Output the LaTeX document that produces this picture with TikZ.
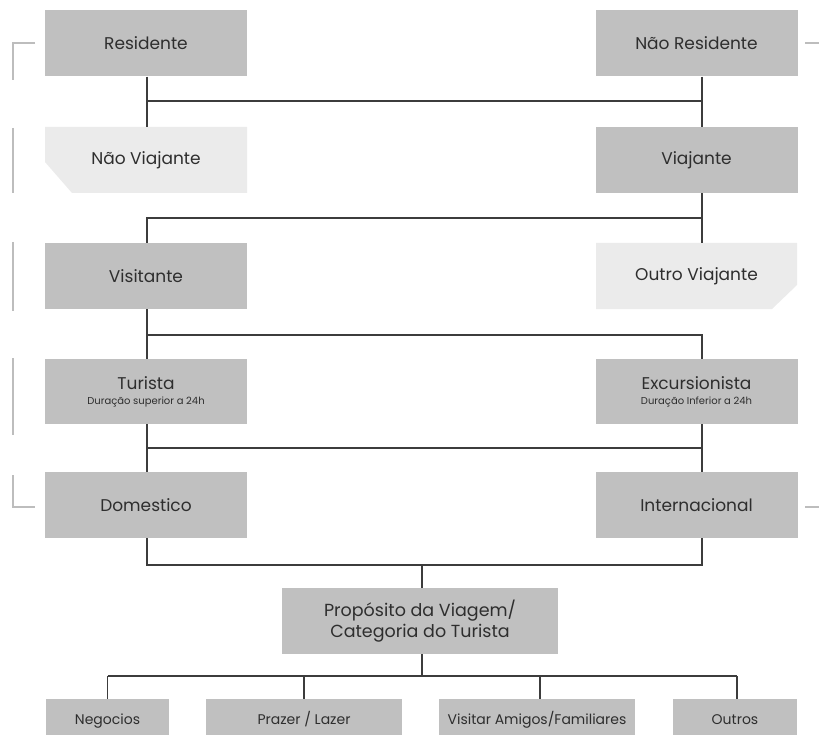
\documentclass[tikz,border=0pt]{standalone}
\usepackage{fontspec}
\setmainfont{Poppins}
\definecolor{boxgray}{HTML}{C0C0C0}
\definecolor{lightbox}{HTML}{EBEBEB}
\definecolor{linegray}{HTML}{3C3C3C}
\definecolor{brack}{HTML}{BDBDBD}
\definecolor{txt}{HTML}{2E2E2E}
\begin{document}
\begin{tikzpicture}[x=1pt,y=-1pt,
  box/.style={fill=boxgray, draw=none, inner sep=0pt, minimum width=202pt, minimum height=66pt,
    text=txt, font=\fontsize{17}{20}\selectfont, align=center},
  textonly/.style={draw=none, inner sep=0pt, minimum width=202pt, minimum height=66pt,
    text=txt, font=\fontsize{17}{20}\selectfont, align=center},
  smallbox/.style={fill=boxgray, draw=none, inner sep=0pt, minimum height=44pt,
    text=txt, font=\fontsize{14}{16}\selectfont, text height=10pt, text depth=3pt},
  conn/.style={draw=linegray, line width=1.4pt},
  bracketline/.style={draw=brack, line width=1.2pt}]
\useasboundingbox (0,0) rectangle (819,735);
\clip (0,0) rectangle (819,735);

% side brackets
\draw[bracketline] (35,43) -- (13,43) -- (13,80);
\draw[bracketline] (13,128) -- (13,193);
\draw[bracketline] (13,242) -- (13,311);
\draw[bracketline] (13,358) -- (13,435);
\draw[bracketline] (13,475) -- (13,507) -- (35,507);
\draw[bracketline] (805,43) -- (819,43);
\draw[bracketline] (805,507) -- (819,507);

% row 1
\node[box] (res) at (146,43.5) {Residente};
\node[box] (nres) at (696.5,43.5) {Não Residente};
% row 2
\fill[lightbox] (45,127) -- (247,127) -- (247,193) -- (72,193) -- (45,162) -- cycle;
\node[textonly] (nviaj) at (146,160) {Não Viajante};
\node[box] (viaj) at (696.5,160) {Viajante};
% row 3
\node[box] (visit) at (146,276) {Visitante};
\fill[lightbox] (596,243) -- (797,243) -- (797,285) -- (772,309) -- (596,309) -- cycle;
\node[textonly] (outro) at (696.5,276) {Outro Viajante};
% row 4
\node[box, minimum height=65pt] (tur) at (146,391.5) {Turista\\[-5pt]{\fontsize{10}{11}\selectfont Duração superior a 24h}};
\node[box, minimum height=65pt] (exc) at (696.5,391.5) {Excursionista\\[-5pt]{\fontsize{10}{11}\selectfont Duração Inferior a 24h}};
% row 5
\node[box] (dom) at (146,505) {Domestico};
\node[box] (int) at (696.5,505) {Internacional};
% proposito
\node[box, minimum width=276pt, font=\fontsize{17.5}{21}\selectfont] (prop) at (420,621) {Propósito da Viagem/\\Categoria do Turista};
% bottom row
\node[smallbox, minimum width=123pt] (neg) at (107.5,721) {Negocios};
\node[smallbox, minimum width=196pt] (praz) at (304,721) {Prazer / Lazer};
\node[smallbox, minimum width=196pt] (vis) at (537,721) {Visitar Amigos/Familiares};
\node[smallbox, minimum width=124pt] (out) at (735,721) {Outros};

% connectors
\draw[conn] ([xshift=1pt]res.south) -- ([xshift=1pt]nviaj.north);
\draw[conn] ([xshift=1pt]res.south |- 0,101) -- ([xshift=5.5pt]nres.south |- 0,101);
\draw[conn] ([xshift=5.5pt]nres.south) -- ([xshift=5.5pt]viaj.north);

\draw[conn] ([xshift=5.5pt]viaj.south) -- ([xshift=5.5pt]outro.north);
\draw[conn] ([xshift=5.5pt]viaj.south |- 0,218) -- ([xshift=1pt]visit.north |- 0,218) -- ([xshift=1pt]visit.north);

\draw[conn] ([xshift=1pt]visit.south) -- ([xshift=1pt]tur.north);
\draw[conn] ([xshift=1pt]visit.south |- 0,335) -- ([xshift=5.5pt]exc.north |- 0,335) -- ([xshift=5.5pt]exc.north);

\draw[conn] ([xshift=1pt]tur.south) -- ([xshift=1pt]dom.north);
\draw[conn] ([xshift=1pt]tur.south |- 0,448) -- ([xshift=5.5pt]exc.south |- 0,448);
\draw[conn] ([xshift=5.5pt]exc.south) -- ([xshift=5.5pt]int.north);

\draw[conn] ([xshift=1pt]dom.south) -- ([xshift=1pt]dom.south |- 0,565) -- ([xshift=5.5pt]int.south |- 0,565) -- ([xshift=5.5pt]int.south);
\draw[conn] ([xshift=2pt]prop.north |- 0,565) -- ([xshift=2pt]prop.north);

\draw[conn] ([xshift=2pt]prop.south) -- ([xshift=2pt]prop.south |- 0,676);
\draw[conn] (neg.north |- 0,676) -- ([xshift=2pt]out.north |- 0,676);
\draw[conn] (neg.north |- 0,676) -- (neg.north);
\draw[conn] (praz.north |- 0,676) -- (praz.north);
\draw[conn] ([xshift=3pt]vis.north |- 0,676) -- ([xshift=3pt]vis.north);
\draw[conn] ([xshift=2pt]out.north |- 0,676) -- ([xshift=2pt]out.north);
\end{tikzpicture}
\end{document}
